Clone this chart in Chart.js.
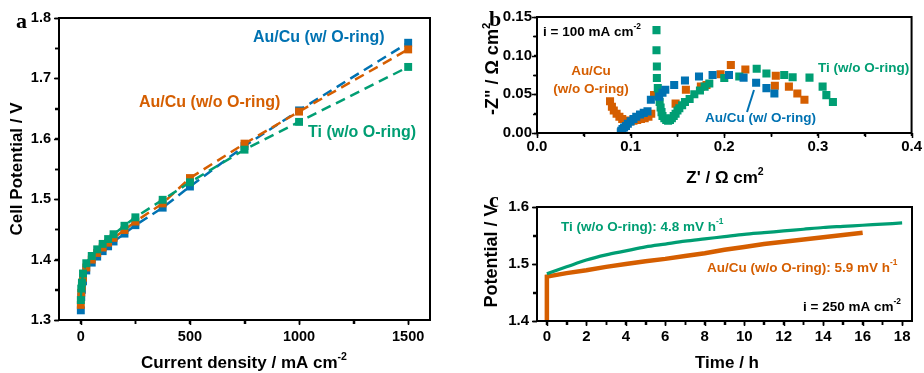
<!DOCTYPE html>
<html>
<head>
<meta charset="utf-8">
<script src="https://cdn.jsdelivr.net/npm/chart.js@4.4.0/dist/chart.umd.min.js"></script>
<style>
  body { margin: 0; background: #fff; }
  #wrap { position: relative; width: 924px; height: 373px; }
  canvas { position: absolute; }
</style>
</head>
<body>
<div id="wrap">
  <canvas id="chartA" style="left:0;top:0" width="470" height="373"></canvas>
  <canvas id="chartC" style="left:470px;top:180px" width="454" height="193"></canvas>
  <canvas id="chartB" style="left:470px;top:0" width="454" height="195"></canvas>
</div>
<script>
// ---- panel a: polarization curves ----
var currentDensity = [0, 2, 5, 10, 25, 50, 75, 100, 125, 150, 200, 250, 375, 500, 750, 1000, 1500];
var vAuWith = [1.316, 1.338, 1.350, 1.364, 1.382, 1.395, 1.405, 1.414, 1.422, 1.430, 1.443, 1.457, 1.486, 1.521, 1.588, 1.647, 1.759];
var vAuWithout = [1.325, 1.345, 1.356, 1.370, 1.387, 1.400, 1.411, 1.420, 1.428, 1.436, 1.449, 1.463, 1.493, 1.535, 1.592, 1.645, 1.748];
var vTi = [1.333, 1.352, 1.362, 1.377, 1.394, 1.406, 1.417, 1.426, 1.434, 1.442, 1.456, 1.470, 1.499, 1.528, 1.582, 1.628, 1.719];

// ---- panel b: Nyquist plots at 100 mA cm-2 ----
var zReAuWith = [0.0895, 0.090, 0.0913, 0.093, 0.095, 0.097, 0.100, 0.103, 0.106, 0.110, 0.114, 0.118, 0.1216, 0.1305, 0.134, 0.137, 0.1465, 0.158, 0.173, 0.1875, 0.205, 0.2206, 0.234, 0.245, 0.2535];
var zImAuWith = [0.001, 0.003, 0.005, 0.007, 0.009, 0.012, 0.015, 0.018, 0.021, 0.024, 0.026, 0.028, 0.043, 0.047, 0.052, 0.056, 0.062, 0.068, 0.073, 0.075, 0.075, 0.0716, 0.065, 0.058, 0.051];
var zReAuWithout = [0.078, 0.080, 0.082, 0.085, 0.088, 0.091, 0.095, 0.099, 0.103, 0.107, 0.111, 0.115, 0.119, 0.122, 0.125, 0.148, 0.159, 0.175, 0.181, 0.196, 0.207, 0.2225, 0.254, 0.255, 0.269, 0.278, 0.2856];
var zImAuWithout = [0.041, 0.034, 0.029, 0.025, 0.021, 0.018, 0.016, 0.015, 0.016, 0.017, 0.018, 0.019, 0.021, 0.025, 0.049, 0.038, 0.056, 0.060, 0.062, 0.076, 0.088, 0.082, 0.061, 0.074, 0.060, 0.051, 0.043];
var zReTi = [0.1276, 0.1276, 0.128, 0.128, 0.129, 0.130, 0.131, 0.132, 0.133, 0.134, 0.136, 0.138, 0.140, 0.142, 0.144, 0.146, 0.148, 0.150, 0.152, 0.155, 0.158, 0.163, 0.168, 0.174, 0.179, 0.184, 0.200, 0.216, 0.2346, 0.245, 0.264, 0.273, 0.291, 0.305, 0.309, 0.316];
var zImTi = [0.133, 0.107, 0.086, 0.071, 0.058, 0.048, 0.040, 0.033, 0.027, 0.022, 0.019, 0.017, 0.016, 0.017, 0.019, 0.022, 0.025, 0.029, 0.032, 0.036, 0.040, 0.044, 0.050, 0.055, 0.060, 0.064, 0.071, 0.073, 0.083, 0.077, 0.075, 0.072, 0.0716, 0.060, 0.049, 0.040];

// ---- panel c: durability at 250 mA cm-2 ----
var timeAu = [0, 0, 1, 2, 3, 4, 5, 6, 7, 8, 9, 10, 11, 12, 13, 14, 15, 16];
var potAu = [1.38, 1.478, 1.484, 1.489, 1.495, 1.500, 1.505, 1.509, 1.514, 1.519, 1.525, 1.530, 1.535, 1.539, 1.543, 1.547, 1.551, 1.555];
var timeTi = [0, 1, 2, 3, 4, 5, 6, 7, 8, 9, 10, 11, 12, 13, 14, 15, 16, 17, 18];
var potTi = [1.483, 1.495, 1.507, 1.516, 1.523, 1.530, 1.535, 1.540, 1.544, 1.548, 1.552, 1.555, 1.558, 1.561, 1.564, 1.566, 1.568, 1.570, 1.572];

var BLUE = '#0072B2', ORANGE = '#D55E00', GREEN = '#009E73';
var SANS = '"Liberation Sans", Arial, sans-serif';
var SERIF = '"Liberation Serif", "Times New Roman", serif';

function pairs(xs, ys) {
  return xs.map(function (x, i) { return { x: x, y: ys[i] }; });
}

function tickValues(min, max, step) {
  var out = [];
  for (var v = min; v <= max + step / 1000; v += step) out.push(Math.round(v * 1e6) / 1e6);
  return out;
}

function isMajor(v, labelStep) {
  var r = v / labelStep;
  return Math.abs(r - Math.round(r)) < 1e-6;
}

function axis(min, max, step, labelStep, digits, fontSize, tickLen, pad, fit) {
  return {
    type: 'linear',
    min: min,
    max: max,
    labelStep: labelStep,
    border: { display: false },
    grid: { drawOnChartArea: false, drawTicks: true, tickLength: tickLen, tickWidth: 1.5, tickColor: '#000' },
    ticks: {
      autoSkip: false, maxRotation: 0, padding: pad, color: '#000',
      font: { family: SANS, size: fontSize, weight: 'bold' },
      callback: function (v) {
        return isMajor(v, labelStep) ? Number(v).toFixed(digits) : '';
      }
    },
    afterBuildTicks: function (scale) {
      scale.ticks = tickValues(fit.first, fit.last, step).map(function (v) { return { value: v }; });
    },
    afterFit: function (scale) {
      if (fit.width) scale.width = fit.width;
      if (fit.height) scale.height = fit.height;
    }
  };
}

function drawRich(ctx, t) {
  ctx.save();
  ctx.translate(t.x, t.y);
  if (t.rot) ctx.rotate(t.rot);
  ctx.fillStyle = t.color || '#000';
  ctx.textBaseline = 'middle';
  ctx.textAlign = 'left';
  var main = 'bold ' + t.size + 'px ' + (t.family || SANS);
  var sup = 'bold ' + (t.size * 0.62) + 'px ' + (t.family || SANS);
  var total = 0;
  t.parts.forEach(function (p) { ctx.font = p[1] ? sup : main; total += ctx.measureText(p[0]).width; });
  var cx = t.align === 'center' ? -total / 2 : (t.align === 'right' ? -total : 0);
  t.parts.forEach(function (p) {
    ctx.font = p[1] ? sup : main;
    ctx.fillText(p[0], cx, p[1] ? -t.size * 0.36 : 0);
    cx += ctx.measureText(p[0]).width;
  });
  ctx.restore();
}

// frame, tick marks and text labels
var decor = {
  id: 'decor',
  afterDraw: function (chart, args, opts) {
    var ctx = chart.ctx, a = chart.chartArea;
    ctx.save();
    ctx.strokeStyle = '#000';
    ctx.lineWidth = 1.5;
    var xs = chart.scales.x, ys = chart.scales.y;
    ctx.beginPath();
    xs.ticks.forEach(function (t) {
      var px = Math.round(xs.getPixelForValue(t.value)) + 0.5;
      var len = isMajor(t.value, xs.options.labelStep) ? 5 : 4;
      ctx.moveTo(px, a.bottom);
      ctx.lineTo(px, a.bottom + len);
    });
    ys.ticks.forEach(function (t) {
      var py = Math.round(ys.getPixelForValue(t.value)) + 0.5;
      var len = isMajor(t.value, ys.options.labelStep) ? 5 : 4;
      ctx.moveTo(a.left, py);
      ctx.lineTo(a.left - len, py);
    });
    ctx.stroke();
    ctx.lineWidth = 2;
    ctx.strokeRect(a.left, a.top, a.right - a.left, a.bottom - a.top);
    (opts.lines || []).forEach(function (l) {
      ctx.strokeStyle = l.color;
      ctx.lineWidth = l.width;
      ctx.beginPath();
      ctx.moveTo(l.x1, l.y1);
      ctx.lineTo(l.x2, l.y2);
      ctx.stroke();
    });
    ctx.restore();
    (opts.texts || []).forEach(function (t) { drawRich(ctx, t); });
  }
};
Chart.register(decor);

function scatterSet(label, xs, ys, color, radius) {
  return {
    label: label, data: pairs(xs, ys), pointStyle: 'rect', pointRadius: radius,
    backgroundColor: color, borderColor: color, borderWidth: 0, showLine: false
  };
}

var baseOpts = {
  responsive: false,
  animation: false,
  events: [],
  plugins: { legend: { display: false }, tooltip: { enabled: false } }
};

// ---- chart a ----
var dsA = [
  ['Ti (w/o O-ring)', vTi, GREEN],
  ['Au/Cu (w/o O-ring)', vAuWithout, ORANGE],
  ['Au/Cu (w/ O-ring)', vAuWith, BLUE]
].map(function (s) {
  var d = scatterSet(s[0], currentDensity, s[1], s[2], 5.6);
  d.showLine = true;
  d.borderWidth = 2.5;
  d.borderDash = [10, 6];
  d.pointBorderWidth = 0;
  return d;
});

new Chart(document.getElementById('chartA'), {
  type: 'scatter',
  data: { datasets: dsA },
  options: Object.assign({}, baseOpts, {
    layout: { padding: { left: 0, top: 18, right: 40, bottom: 0 } },
    scales: {
      x: axis(-100, 1600, 250, 500, 0, 14.5, 4, 4, { first: 0, last: 1500, height: 53 }),
      y: axis(1.3, 1.8, 0.05, 0.1, 1, 14.5, 4, 4, { first: 1.3, last: 1.8, width: 59 })
    },
    plugins: Object.assign({}, baseOpts.plugins, {
      decor: {
        texts: [
          { parts: [['a']], x: 16, y: 22, size: 22, family: SERIF },
          { parts: [['Cell Potential / V']], x: 17, y: 169, size: 17, align: 'center', rot: -Math.PI / 2 },
          { parts: [['Current density / mA cm'], ['-2', 1]], x: 244, y: 363, size: 17, align: 'center' },
          { parts: [['Au/Cu (w/ O-ring)']], x: 253, y: 38, size: 16, color: BLUE },
          { parts: [['Au/Cu (w/o O-ring)']], x: 139, y: 103, size: 16, color: ORANGE },
          { parts: [['Ti (w/o O-ring)']], x: 308, y: 133, size: 16, color: GREEN }
        ]
      }
    })
  })
});

// ---- chart b ----
new Chart(document.getElementById('chartB'), {
  type: 'scatter',
  data: {
    datasets: [
      scatterSet('Au/Cu (w/ O-ring)', zReAuWith, zImAuWith, BLUE, 5.7),
      scatterSet('Ti (w/o O-ring)', zReTi, zImTi, GREEN, 5.7),
      scatterSet('Au/Cu (w/o O-ring)', zReAuWithout, zImAuWithout, ORANGE, 5.7)
    ]
  },
  options: Object.assign({}, baseOpts, {
    layout: { padding: { left: 0, top: 17, right: 12, bottom: 0 } },
    scales: {
      x: axis(0, 0.4, 0.05, 0.1, 1, 15, 3, 2, { first: 0, last: 0.4, height: 62 }),
      y: axis(0, 0.15, 0.025, 0.05, 2, 15, 3, 2, { first: 0, last: 0.15, width: 67 })
    },
    plugins: Object.assign({}, baseOpts.plugins, {
      decor: {
        lines: [{ x1: 277, y1: 112, x2: 284, y2: 90, color: BLUE, width: 2 }],
        texts: [
          { parts: [['b']], x: 19, y: 20, size: 22, family: SERIF },
          { parts: [['-Z" / \u03A9 cm'], ['2', 1]], x: 23, y: 69, size: 18, align: 'center', rot: -Math.PI / 2 },
          { parts: [["Z' / \u03A9 cm"], ['2', 1]], x: 255, y: 178, size: 17, align: 'center' },
          { parts: [['i = 100 mA cm'], ['-2', 1]], x: 73, y: 32, size: 13.5 },
          { parts: [['Au/Cu']], x: 121, y: 71, size: 13.5, color: ORANGE, align: 'center' },
          { parts: [['(w/o O-ring)']], x: 121, y: 89, size: 13.5, color: ORANGE, align: 'center' },
          { parts: [['Ti (w/o O-ring)']], x: 348, y: 68, size: 13.5, color: GREEN },
          { parts: [['Au/Cu (w/ O-ring)']], x: 235, y: 118, size: 13.5, color: BLUE }
        ]
      }
    })
  })
});

// ---- chart c ----
new Chart(document.getElementById('chartC'), {
  type: 'scatter',
  data: {
    datasets: [
      { label: 'Ti (w/o O-ring)', data: pairs(timeTi, potTi), showLine: true, pointRadius: 0,
        borderColor: GREEN, borderWidth: 3.2, tension: 0.3 },
      { label: 'Au/Cu (w/o O-ring)', data: pairs(timeAu, potAu), showLine: true, pointRadius: 0,
        borderColor: ORANGE, borderWidth: 4.5, tension: 0 }
    ]
  },
  options: Object.assign({}, baseOpts, {
    layout: { padding: { left: 0, top: 27, right: 12, bottom: 0 } },
    scales: {
      x: axis(-0.5, 18.5, 1, 2, 0, 15, 4, 3, { first: 0, last: 18, height: 52 }),
      y: axis(1.4, 1.6, 0.05, 0.1, 1, 15, 4, 4, { first: 1.4, last: 1.6, width: 67 })
    },
    plugins: Object.assign({}, baseOpts.plugins, {
      decor: {
        texts: [
          { parts: [['Potential / V']], x: 22, y: 76, size: 18, align: 'center', rot: -Math.PI / 2 },
          { parts: [['c']], x: 19, y: 21, size: 22, family: SERIF },
          { parts: [['Time / h']], x: 257, y: 183, size: 17, align: 'center' },
          { parts: [['Ti (w/o O-ring): 4.8 mV h'], ['-1', 1]], x: 91, y: 47, size: 13.5, color: GREEN },
          { parts: [['Au/Cu (w/o O-ring): 5.9 mV h'], ['-1', 1]], x: 237, y: 88, size: 13.5, color: ORANGE },
          { parts: [['i = 250 mA cm'], ['-2', 1]], x: 333, y: 127, size: 13.5 }
        ]
      }
    })
  })
});
</script>
</body>
</html>
